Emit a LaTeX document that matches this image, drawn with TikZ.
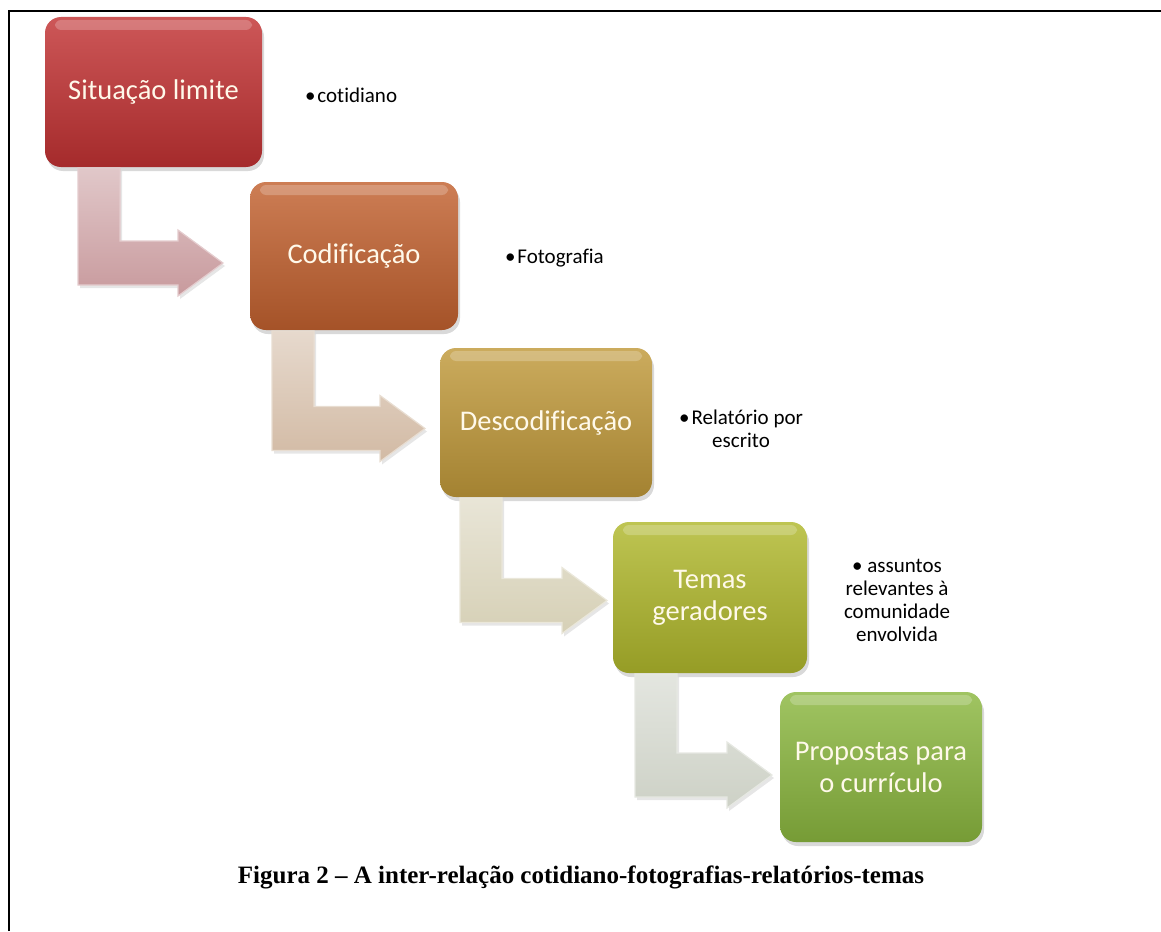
\documentclass[tikz,border=0pt]{standalone}
\usepackage{fontspec}
\setmainfont{Carlito}[Ligatures=NoCommon]
\newfontfamily\captionfont{Liberation Serif}
\usetikzlibrary{calc,shadows}

\definecolor{sitred}{HTML}{C23233}
\definecolor{codorange}{HTML}{C2612F}
\definecolor{descgold}{HTML}{C0993A}
\definecolor{temasolive}{HTML}{B0B82C}
\definecolor{propgreen}{HTML}{8BB73F}
\definecolor{boxtext}{HTML}{FFF9EA}
\definecolor{arrowA}{HTML}{C89A9D}
\definecolor{arrowB}{HTML}{D2BAA4}
\definecolor{arrowC}{HTML}{D6D0B6}
\definecolor{arrowD}{HTML}{CDD1C6}

% bent arrow from the foot of one box to the side of the next
\newcommand\elbowarrow[5]{%
  \path[elbow=#3] let \p1=($(#1.south west)+(#4,1)$), \p2=($(#2.west)+(#5)$) in
    (\x1,\y1) -- (\x1+42pt,\y1) -- (\x1+42pt,\y2+22pt) -- (\x2-45pt,\y2+22pt)
    -- (\x2-45pt,\y2+33pt) -- (\x2,\y2) -- (\x2-45pt,\y2-33pt)
    -- (\x2-45pt,\y2-22pt) -- (\x1,\y2-22pt) -- cycle;}

\begin{document}
\begin{tikzpicture}[x=1pt, y=-1pt, inner sep=0pt, outer sep=0pt,
  stagebox/.style={rounded corners=16pt, top color=#1!82!white,
    bottom color=#1!85!black, text=boxtext, align=center,
    font=\fontsize{28.5}{32}\selectfont,
    drop shadow={shadow xshift=2pt, shadow yshift=-4pt, opacity=.3},
    path picture={\fill[white,opacity=.22,rounded corners=6pt]
      ([xshift=10pt,yshift=-3pt]path picture bounding box.north west) rectangle
      ([xshift=-10pt,yshift=-13pt]path picture bounding box.north east);}},
  notetext/.style={font=\fontsize{21}{23}\selectfont, align=center, text=black},
  elbow/.style={top color=#1!55!white, bottom color=#1, draw=white!50!#1,
    line width=1.2pt, line join=miter,
    drop shadow={shadow xshift=2pt, shadow yshift=-3pt, opacity=.2}}]
\useasboundingbox (0,0) rectangle (1161,931);
\draw[line width=2.2pt] (9,931) -- (9,11) -- (1161,11);

\node[stagebox=sitred, minimum width=217pt, minimum height=150pt]
  (sit) at (153.5,92) {Situação limite};
\node[stagebox=codorange, minimum width=208pt, minimum height=148pt]
  (cod) at (354,256) {Codificação};
\node[stagebox=descgold, minimum width=212pt, minimum height=149pt]
  (desc) at (546,422.5) {Descodificação};
\node[stagebox=temasolive, minimum width=194pt, minimum height=151pt]
  (temas) at (710,597.5) {Temas\\geradores};
\node[stagebox=propgreen, minimum width=202pt, minimum height=150pt]
  (prop) at (881,767) {Propostas para\\o currículo};

\elbowarrow{sit}{cod}{arrowA}{33}{-27,7}
\elbowarrow{cod}{desc}{arrowB}{22}{-15,6}
\elbowarrow{desc}{temas}{arrowC}{20}{-6,3}
\elbowarrow{temas}{prop}{arrowD}{22}{-8,8}

\node[notetext, anchor=west] (cotnote) at (305,95) {•\hspace{2pt}cotidiano};
\node[notetext, anchor=west] (fotonote) at (505,258) {•\hspace{2pt}Fotografia};
\node[notetext] (relnote) at (741,429) {•\hspace{2pt}Relatório por\\escrito};
\node[notetext] (assnote) at (897,600) {• assuntos\\relevantes à\\comunidade\\envolvida};

\node[font=\captionfont\bfseries\fontsize{25}{28}\selectfont] (caption)
  at (581,877) {Figura 2 – A inter-relação cotidiano-fotografias-relatórios-temas};
\end{tikzpicture}
\end{document}
